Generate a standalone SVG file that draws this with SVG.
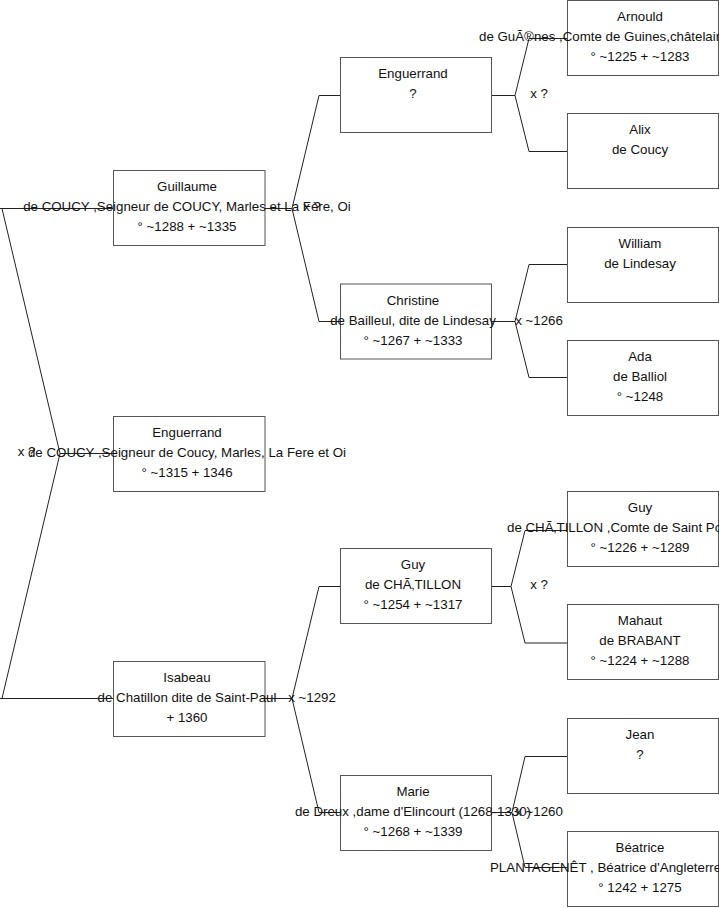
<svg xmlns="http://www.w3.org/2000/svg" width="719" height="908" viewBox="0 0 719 908">
<style>
.box{fill:#fff;stroke:#555;stroke-width:1}
.t{font-family:"Liberation Sans",Arial,sans-serif;font-size:13.3px;fill:#111;text-anchor:middle}
.ts{font-family:"Liberation Sans",Arial,sans-serif;font-size:13.3px;fill:#111;text-anchor:start}
.c{fill:none;stroke:#222;stroke-width:1}
</style>
<rect width="719" height="908" fill="#fff"/>
<g id="connectors">
<path class="c" d="M0,208.5 H113.5 M2,208.5 L60,453.5 L2,698.5 M60,453.5 H113.5 M0,698.5 H113.5"/>
<path class="c" d="M265,208.5 H292 M340.5,95.5 H319 L292,208.5 L319,321.5 H340.5"/>
<path class="c" d="M265,698.5 H292 M340.5,586.5 H319 L292,698.5 L319,812.5 H340.5"/>
<path class="c" d="M491.5,95.5 H515 M567.5,38.5 H529 L515,95.5 L529,151.5 H567.5"/>
<path class="c" d="M491.5,321.5 H515 M567.5,264.5 H529 L515,321.5 L529,377.5 H567.5"/>
<path class="c" d="M491.5,586.5 H511 M567.5,530.5 H525 L511,586.5 L525,643 H567.5"/>
<path class="c" d="M491.5,812.5 H512 M567.5,756.5 H525 L512,812.5 L525,867.5 H567.5"/>
</g>
<g id="n-guillaume"><rect class="box" x="113.5" y="170.5" width="151.5" height="75"/>
<text class="t" x="187" y="191">Guillaume</text>
<text class="t" x="187" y="211">de COUCY ,Seigneur de COUCY, Marles et La Fère, Oi</text>
<text class="t" x="187" y="231">° ~1288 + ~1335</text></g>
<g id="n-enguerrand1"><rect class="box" x="113.5" y="416.5" width="151.5" height="75"/>
<text class="t" x="187" y="437">Enguerrand</text>
<text class="t" x="187" y="457">de COUCY ,Seigneur de Coucy, Marles, La Fere et Oi</text>
<text class="t" x="187" y="477">° ~1315 + 1346</text></g>
<g id="n-isabeau"><rect class="box" x="113.5" y="661.5" width="151.5" height="75"/>
<text class="t" x="187" y="682">Isabeau</text>
<text class="t" x="187" y="702">de Chatillon dite de Saint-Paul</text>
<text class="t" x="187" y="722">+ 1360</text></g>
<g id="n-enguerrand2"><rect class="box" x="340.5" y="57.5" width="151" height="75"/>
<text class="t" x="413" y="78">Enguerrand</text>
<text class="t" x="413" y="98">?</text></g>
<g id="n-christine"><rect class="box" x="340.5" y="284" width="151" height="75"/>
<text class="t" x="413" y="304.5">Christine</text>
<text class="t" x="413" y="324.5">de Bailleul, dite de Lindesay</text>
<text class="t" x="413" y="344.5">° ~1267 + ~1333</text></g>
<g id="n-guy2"><rect class="box" x="340.5" y="548.5" width="151" height="75"/>
<text class="t" x="413" y="569">Guy</text>
<text class="t" x="413" y="589">de CHÃ‚TILLON</text>
<text class="t" x="413" y="609">° ~1254 + ~1317</text></g>
<g id="n-marie"><rect class="box" x="340.5" y="775.5" width="151" height="75"/>
<text class="t" x="413" y="796">Marie</text>
<text class="t" x="413" y="816">de Dreux ,dame d'Elincourt (1268-1330)</text>
<text class="t" x="413" y="836">° ~1268 + ~1339</text></g>
<g id="n-arnould"><rect class="box" x="567.5" y="0.5" width="151" height="75"/>
<text class="t" x="640" y="21">Arnould</text>
<text class="ts" x="479" y="41">de GuÃ®nes ,Comte de Guines,châtelain</text>
<text class="t" x="640" y="61">° ~1225 + ~1283</text></g>
<g id="n-alix"><rect class="box" x="567.5" y="113.5" width="151" height="75"/>
<text class="t" x="640" y="134">Alix</text>
<text class="t" x="640" y="154">de Coucy</text></g>
<g id="n-william"><rect class="box" x="567.5" y="227.5" width="151" height="75"/>
<text class="t" x="640" y="248">William</text>
<text class="t" x="640" y="268">de Lindesay</text></g>
<g id="n-ada"><rect class="box" x="567.5" y="340.5" width="151" height="75"/>
<text class="t" x="640" y="361">Ada</text>
<text class="t" x="640" y="381">de Balliol</text>
<text class="t" x="640" y="401">° ~1248</text></g>
<g id="n-guy3"><rect class="box" x="567.5" y="491.5" width="151" height="75"/>
<text class="t" x="640" y="512">Guy</text>
<text class="ts" x="507" y="532">de CHÃ‚TILLON ,Comte de Saint Pol</text>
<text class="t" x="640" y="552">° ~1226 + ~1289</text></g>
<g id="n-mahaut"><rect class="box" x="567.5" y="604.5" width="151" height="75"/>
<text class="t" x="640" y="625">Mahaut</text>
<text class="t" x="640" y="645">de BRABANT</text>
<text class="t" x="640" y="665">° ~1224 + ~1288</text></g>
<g id="n-jean"><rect class="box" x="567.5" y="718.5" width="151" height="75"/>
<text class="t" x="640" y="739">Jean</text>
<text class="t" x="640" y="759">?</text></g>
<g id="n-beatrice"><rect class="box" x="567.5" y="831.5" width="151" height="75"/>
<text class="t" x="640" y="852">Béatrice</text>
<text class="ts" x="490" y="872">PLANTAGENÊT , Béatrice d'Angleterre</text>
<text class="t" x="640" y="892">° 1242 + 1275</text></g>
<g id="labels">
<text class="t" x="26.5" y="456">x ?</text>
<text class="t" x="312" y="211">x ?</text>
<text class="t" x="312" y="701.5">x ~1292</text>
<text class="t" x="539" y="98">x ?</text>
<text class="t" x="539" y="324.5">x ~1266</text>
<text class="t" x="539" y="589">x ?</text>
<text class="t" x="539" y="815.5">x ~1260</text>
</g>
</svg>
